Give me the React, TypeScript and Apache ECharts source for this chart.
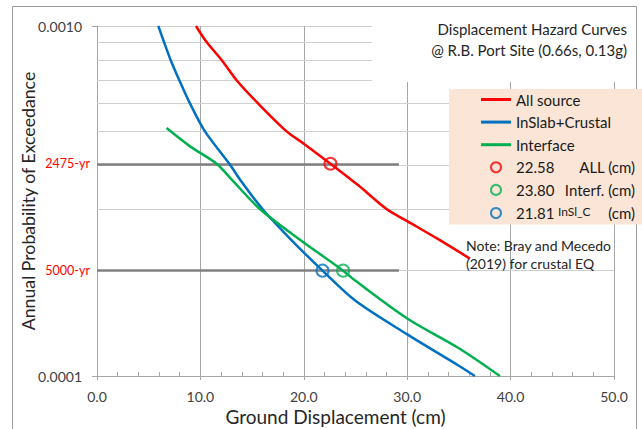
import React, { useEffect, useRef } from 'react';
import * as echarts from 'echarts';

// ---- data ----
const allSourceDisp = [9.57, 10.6, 12.05, 13.5, 15.6, 18.34, 20.0, 22.58, 25.3, 28.0, 30.0, 33.0, 36.06];
const allSourceProb = [0.001, 0.0009, 0.0008, 0.0007, 0.0006, 0.0005, 0.000461, 0.000404, 0.00035, 0.0003, 0.000277, 0.000246, 0.0002165];

const inslabDisp = [5.93, 6.48, 7.12, 7.96, 9.0, 10.44, 12.8, 13.89, 16.0, 18.66, 21.81, 25.0, 30.0, 35.0, 36.54];
const inslabProb = [0.001, 0.0009, 0.0008, 0.0007, 0.0006, 0.0005, 0.000404, 0.000362, 0.0003, 0.000247, 0.0002, 0.000164, 0.0001315, 0.000107, 0.0001];

const interfaceDisp = [6.73, 9.0, 11.57, 13.1, 15.75, 19.46, 23.8, 25.0, 30.0, 35.0, 38.96];
const interfaceProb = [0.000511, 0.000453, 0.000404, 0.000362, 0.0003, 0.000247, 0.0002, 0.000187, 0.000146, 0.00012, 0.0001];

const curveNames = ['All source', 'InSlab+Crustal', 'Interface'];
const curveColors = ['#FF0000', '#0070C0', '#00B050'];

const designNames = ['ALL', 'Interf.', 'InSl_C'];
const designDisp = [22.58, 23.8, 21.81];
const designReturnPeriod = [2475, 5000, 5000];
const designColors = ['#FF0000', '#00B050', '#0070C0'];

const returnPeriods = [2475, 5000];
const returnPeriodLabels = ['2475-yr', '5000-yr'];
const returnLineEnd = 29.2;

const minorProbs = [0.0002, 0.0003, 0.0004, 0.0005, 0.0006, 0.0007, 0.0008, 0.0009];

const xMin = 0;
const xMax = 50;
const xStep = 10;
const yMin = 0.0001;
const yMax = 0.001;

const titleText = 'Displacement Hazard Curves\n@ R.B. Port Site (0.66s, 0.13g)';
const noteText = 'Note: Bray and Mecedo\n(2019) for crustal EQ';

const FONT = 'Lato, "Open Sans", sans-serif';
const TEXT = '#262626';
const AXIS = '#A6A6A6';

function pairs(xs: number[], ys: number[]) {
  return xs.map((x, i) => [x, ys[i]]);
}

export default function App() {
  const ref = useRef<HTMLDivElement>(null);

  useEffect(() => {
    if (!ref.current) return;
    const chart = echarts.init(ref.current, null, { renderer: 'svg' });

    const curveData = [
      pairs(allSourceDisp, allSourceProb),
      pairs(inslabDisp, inslabProb),
      pairs(interfaceDisp, interfaceProb),
    ];

    const series: any[] = [
      {
        type: 'line',
        name: '__grid',
        data: [],
        z: 1,
        silent: true,
        markLine: {
          z: 1,
          silent: true,
          symbol: ['none', 'none'],
          label: { show: false },
          lineStyle: { color: '#D0D0D0', width: 1, type: 'solid' },
          emphasis: { disabled: true },
          data: minorProbs.map((p) => [{ coord: [xMin, p] }, { coord: [xMax, p] }]),
        },
      },
      {
        type: 'line',
        name: '__rp',
        data: [],
        z: 1,
        silent: true,
        markLine: {
          z: 1.5,
          silent: true,
          symbol: ['none', 'none'],
          emphasis: { disabled: true },
          lineStyle: { color: '#808080', width: 2.5, type: 'solid' },
          data: returnPeriods.map((rp, i) => [
            {
              coord: [xMin, 1 / rp],
              label: {
                show: true,
                position: 'start',
                distance: 7,
                formatter: returnPeriodLabels[i],
                color: '#FF0000',
                fontFamily: FONT,
                fontSize: 12.5,
              },
            },
            { coord: [returnLineEnd, 1 / rp] },
          ]),
        },
      },
      ...curveNames.map((name, i) => ({
        type: 'line',
        name,
        data: curveData[i],
        showSymbol: false,
        symbol: 'none',
        smooth: 0.3,
        lineStyle: { color: curveColors[i], width: 2.5 },
        itemStyle: { color: curveColors[i] },
        z: 2,
      })),
      ...designNames.map((name, i) => ({
        type: 'scatter',
        name,
        data: [[designDisp[i], 1 / designReturnPeriod[i]]],
        symbol: 'circle',
        symbolSize: 12,
        itemStyle: { color: 'transparent', borderColor: designColors[i], borderWidth: 2 },
        z: 3,
      })),
    ];

    const legendData: any[] = [
      ...curveNames.map((name, i) => ({
        name,
        icon: 'path://M0,0L30,0L30,3L0,3Z',
        itemStyle: { color: curveColors[i], borderWidth: 0 },
      })),
      ...designNames.map((name, i) => ({
        name,
        icon: 'circle',
        itemStyle: { color: 'transparent', borderColor: designColors[i], borderWidth: 2 },
      })),
    ];

    const option: any = {
      animation: false,
      backgroundColor: '#fff',
      textStyle: { fontFamily: FONT },
      grid: { left: 97, right: 28, top: 26, bottom: 53, containLabel: false, outerBoundsMode: 'none' },
      title: {
        text: noteText,
        left: 466,
        top: 236,
        padding: 0,
        textStyle: { fontFamily: FONT, fontSize: 14, fontWeight: 'normal', color: TEXT, lineHeight: 18.3 },
      },
      legend: {
        show: true,
        orient: 'vertical',
        left: 449,
        top: 89,
        padding: [3, 10, 4, 32],
        itemGap: 7.6,
        itemWidth: 30,
        itemHeight: 10,
        itemTextGap: 1,
        selectedMode: false,
        backgroundColor: '#FBE5D6',
        data: legendData,
        formatter: (name: string) => {
          const k = designNames.indexOf(name);
          if (k < 0) return name;
          const v = designDisp[k].toFixed(2);
          if (name === 'InSl_C') return `{n|${v}}{s|${name}}{c|(cm)}`;
          return `{n|${v}}{u|${name} (cm)}`;
        },
        textStyle: {
          fontFamily: FONT,
          fontSize: 15,
          color: '#1a1a1a',
          rich: {
            n: { fontFamily: FONT, fontSize: 15, color: '#1a1a1a', width: 42 },
            u: { fontFamily: FONT, fontSize: 15, color: '#1a1a1a', width: 77, align: 'right' },
            s: { fontFamily: FONT, fontSize: 12, color: '#1a1a1a', width: 47, padding: [0, 0, 4, 0] },
            c: { fontFamily: FONT, fontSize: 15, color: '#1a1a1a', width: 30, align: 'right' },
          },
        },
      },
      xAxis: {
        type: 'value',
        min: xMin,
        max: xMax,
        interval: xStep,
        name: 'Ground Displacement (cm)',
        nameLocation: 'middle',
        nameGap: 31,
        nameMoveOverlap: false,
        nameTextStyle: { fontFamily: FONT, fontSize: 19, color: TEXT, padding: [0, 40, 0, 0] },
        axisLine: { show: true, onZero: false, lineStyle: { color: AXIS, width: 1 } },
        axisTick: { show: true, length: 4, lineStyle: { color: AXIS } },
        minorTick: { show: true, splitNumber: 5, length: -4, lineStyle: { color: AXIS } },
        axisLabel: {
          formatter: (v: number) => v.toFixed(1),
          fontFamily: FONT,
          fontSize: 14,
          color: '#404040',
          margin: 13,
        },
        splitLine: { show: true, lineStyle: { color: AXIS, width: 1 } },
        minorSplitLine: { show: false },
      },
      yAxis: {
        type: 'log',
        logBase: 10,
        min: yMin,
        max: yMax,
        name: 'Annual Probability of Exceedance',
        nameLocation: 'middle',
        nameRotate: 90,
        nameGap: 60,
        nameMoveOverlap: false,
        nameTextStyle: { fontFamily: FONT, fontSize: 17.7, color: TEXT },
        axisLine: { show: true, onZero: false, lineStyle: { color: AXIS, width: 1 } },
        axisTick: { show: true, length: 5, lineStyle: { color: AXIS } },
        axisLabel: {
          formatter: (v: number) => v.toFixed(4),
          fontFamily: FONT,
          fontSize: 14,
          color: '#404040',
          margin: 15,
        },
        splitLine: { show: true, lineStyle: { color: '#D0D0D0', width: 1 } },
      },
      graphic: [
        {
          type: 'rect',
          z: 3,
          silent: true,
          shape: { x: 12.5, y: 6.5, width: 624, height: 440 },
          style: { fill: 'none', stroke: '#9A9A9A', lineWidth: 1 },
        },
        {
          type: 'rect',
          z: 6,
          silent: true,
          shape: { x: 372, y: 8, width: 262, height: 74 },
          style: { fill: '#fff', stroke: 'none' },
        },
        {
          type: 'text',
          z: 7,
          silent: true,
          x: 627,
          y: 18.5,
          style: {
            text: titleText,
            align: 'right',
            verticalAlign: 'top',
            fontFamily: FONT,
            fontSize: 15,
            lineHeight: 21,
            fill: TEXT,
          },
        },
      ],
      series,
    };

    chart.setOption(option);
    return () => chart.dispose();
  }, []);

  return (
    <div
      ref={ref}
      style={{ position: 'fixed', left: 0, top: 0, width: 642, height: 429, background: '#fff' }}
    />
  );
}
